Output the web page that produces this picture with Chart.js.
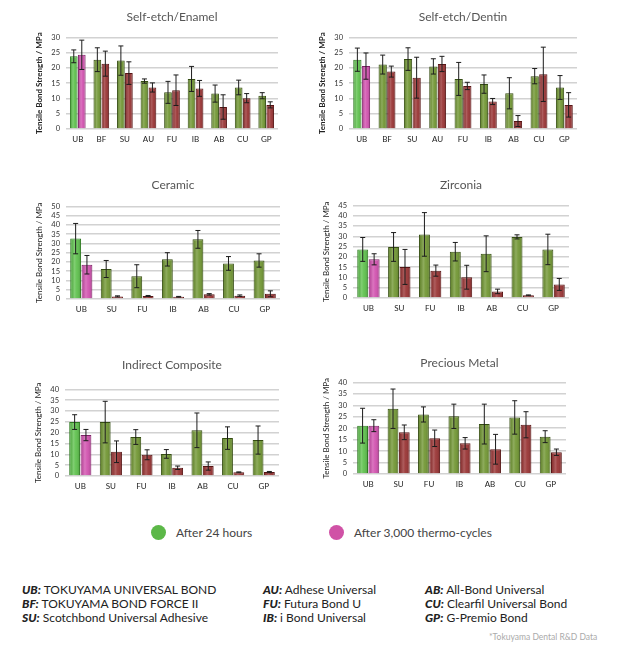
<!DOCTYPE html>
<html><head><meta charset="utf-8">
<script src="https://cdn.jsdelivr.net/npm/chart.js@4.4.1/dist/chart.umd.min.js"></script>
<style>
html,body{margin:0;padding:0;background:#fff;width:624px;height:659px;overflow:hidden;font-family:Lato,"Open Sans",sans-serif;}
.dot{position:absolute;width:15px;height:15px;border-radius:50%;}
.lg{position:absolute;font-size:12px;color:#444;line-height:14px;white-space:nowrap;}
.ab{position:absolute;font-size:12px;color:#222;line-height:14px;white-space:nowrap;}
.ab b{font-style:italic;font-weight:900;}
.fn{position:absolute;font-size:8.5px;color:#aaa;white-space:nowrap;}
</style></head><body>
<div id="wrap"></div>
<div class="dot" style="left:151px;top:525px;background:#5cb848;"></div>
<div class="lg" style="left:176px;top:526px;">After 24 hours</div>
<div class="dot" style="left:329px;top:525px;background:#d052a6;"></div>
<div class="lg" style="left:354px;top:526px;">After 3,000 thermo-cycles</div>
<div class="ab" style="left:22px;top:583px;"><b>UB:</b> TOKUYAMA UNIVERSAL BOND<br><b>BF:</b> TOKUYAMA BOND FORCE II<br><b>SU:</b> Scotchbond Universal Adhesive</div>
<div class="ab" style="left:263px;top:583px;"><b>AU:</b> Adhese Universal<br><b>FU:</b> Futura Bond U<br><b>IB:</b> i Bond Universal</div>
<div class="ab" style="left:425px;top:583px;"><b>AB:</b> All-Bond Universal<br><b>CU:</b> Clearfil Universal Bond<br><b>GP:</b> G-Premio Bond</div>
<div class="fn" style="left:489px;top:632px;">*Tokuyama Dental R&amp;D Data</div>
<script>
// ---- data ----
const catsNine = ["UB","BF","SU","AU","FU","IB","AB","CU","GP"];
const catsSeven = ["UB","SU","FU","IB","AB","CU","GP"];

const enamel24 = [23.8,22.7,22.4,15.7,12.0,16.4,11.6,13.6,10.9];
const enamel24Err = [2.1,3.9,4.8,0.7,3.6,4.1,2.8,2.4,1.0];
const enamelTC = [24.3,21.4,18.3,13.6,12.7,13.3,7.2,10.1,7.9];
const enamelTCErr = [4.8,4.1,3.7,1.5,5.0,2.6,4.0,1.5,1.0];

const dentin24 = [22.7,21.1,22.9,20.5,16.4,14.7,11.7,17.3,13.6];
const dentin24Err = [3.8,3.1,3.7,2.5,5.4,3.0,5.1,2.5,3.9];
const dentinTC = [20.6,18.8,16.8,21.3,14.1,9.0,2.6,17.9,7.9];
const dentinTCErr = [4.3,1.8,6.7,2.5,1.2,1.0,1.8,8.9,4.0];

const ceramic24 = [32.6,16.2,12.3,21.4,32.2,19.2,20.8];
const ceramic24Err = [8.2,4.6,6.2,3.6,4.8,3.7,3.6];
const ceramicTC = [18.5,1.4,1.6,1.2,2.5,1.8,2.8];
const ceramicTCErr = [5.0,0.3,0.3,0.2,0.4,0.4,1.6];

const zirconia24 = [23.6,24.8,30.9,22.5,21.5,29.7,23.6];
const zirconia24Err = [5.8,7.0,10.6,4.5,8.7,1.0,7.4];
const zirconiaTC = [18.8,15.1,13.3,10.1,3.2,1.3,6.6];
const zirconiaTCErr = [2.7,8.5,2.7,5.8,1.1,0.2,2.9];

const composite24 = [24.9,24.9,18.0,10.2,21.1,17.5,16.6];
const composite24Err = [3.4,9.6,3.4,2.0,8.0,5.2,6.5];
const compositeTC = [18.9,11.2,9.8,3.8,4.6,1.7,1.8];
const compositeTCErr = [2.6,5.0,2.3,0.8,1.9,0.2,0.3];

const metal24 = [21.1,28.5,26.0,25.2,21.8,24.7,16.3];
const metal24Err = [7.6,8.6,3.3,5.3,8.7,7.3,2.6];
const metalTC = [21.1,18.2,15.6,13.4,10.8,21.5,9.5];
const metalTCErr = [2.6,3.2,3.6,2.5,6.5,5.7,1.4];

const yMaxes = [30,30,50,45,40,40];
const seriesNames = ["After 24 hours","After 3,000 thermo-cycles"];
const yTitle = "Tensile Bond Strength / MPa";

// ---- styles ----
const COL = {
  ubGreen:'#5cc04a', ubGreenB:'#2f7a22',
  ubPink:'#d14fae', ubPinkB:'#7d2266',
  olive:'#6f9530', oliveB:'#354d12',
  red:'#973030', redB:'#561414'
};

// soft cylindrical shading on each bar (style only)
const barShade = {
  id:'barShade',
  afterDatasetsDraw(chart){
    const ctx = chart.ctx;
    chart.data.datasets.forEach((ds,i)=>{
      chart.getDatasetMeta(i).data.forEach(bar=>{
        const x0 = bar.x - bar.width/2, w = bar.width, h = bar.base - bar.y;
        if (h <= 1) return;
        const g = ctx.createLinearGradient(x0,0,x0+w,0);
        g.addColorStop(0,'rgba(0,0,0,0.12)');
        g.addColorStop(0.4,'rgba(255,255,255,0.22)');
        g.addColorStop(0.6,'rgba(255,255,255,0.08)');
        g.addColorStop(1,'rgba(0,0,0,0.18)');
        ctx.save(); ctx.fillStyle = g;
        ctx.fillRect(x0+1, bar.y+1, w-2, h-1);
        ctx.restore();
      });
    });
  }
};

const errorBars = {
  id:'errorBars',
  afterDatasetsDraw(chart){
    const ctx = chart.ctx, ys = chart.scales.y;
    chart.data.datasets.forEach((ds,i)=>{
      const meta = chart.getDatasetMeta(i);
      meta.data.forEach((bar,j)=>{
        const v = ds.data[j], e = ds.errors[j];
        const yt = ys.getPixelForValue(v+e), yb = ys.getPixelForValue(Math.max(0,v-e));
        ctx.save();
        ctx.strokeStyle = '#1c1c1c'; ctx.lineWidth = 1;
        ctx.beginPath();
        ctx.moveTo(bar.x, yt); ctx.lineTo(bar.x, yb);
        ctx.moveTo(bar.x-2.5, yt); ctx.lineTo(bar.x+2.5, yt);
        ctx.moveTo(bar.x-2.5, yb); ctx.lineTo(bar.x+2.5, yb);
        ctx.stroke();
        ctx.restore();
      });
    });
  }
};

const panels = [
  {title:'Self-etch/Enamel', cats:catsNine, a:enamel24, ae:enamel24Err, b:enamelTC, be:enamelTCErr, L:66, T:37, R:278, B:129, bold:true, pb:13, cp:0.68},
  {title:'Self-etch/Dentin', cats:catsNine, a:dentin24, ae:dentin24Err, b:dentinTC, be:dentinTCErr, L:349, T:37, R:577, B:129, bold:true, pb:13, cp:0.68},
  {title:'Ceramic', cats:catsSeven, a:ceramic24, ae:ceramic24Err, b:ceramicTC, be:ceramicTCErr, L:66, T:206, R:280, B:299, bold:false, pb:14, cp:0.74},
  {title:'Zirconia', cats:catsSeven, a:zirconia24, ae:zirconia24Err, b:zirconiaTC, be:zirconiaTCErr, L:353, T:205, R:569, B:298, bold:false, pb:13, cp:0.74},
  {title:'Indirect Composite', cats:catsSeven, a:composite24, ae:composite24Err, b:compositeTC, be:compositeTCErr, L:65, T:389, R:279, B:476, bold:false, pb:17, cp:0.74},
  {title:'Precious Metal', cats:catsSeven, a:metal24, ae:metal24Err, b:metalTC, be:metalTCErr, L:353, T:382, R:566, B:474, bold:false, pb:12, cp:0.74}
];

const Y_W = 35, X_H = 22, PAD_R = 4, T_PT = 4, T_FS = 12, T_LH = 1.2;
const wrap = document.getElementById('wrap');

panels.forEach((p,idx)=>{
  const titleBlock = T_PT + T_FS*T_LH + p.pb;
  const left = p.L - Y_W, top = p.T - titleBlock;
  const w = p.R - left + PAD_R, h = p.B + X_H - top;
  const div = document.createElement('div');
  div.style.cssText = `position:absolute;left:${left}px;top:${top}px;width:${w}px;height:${h}px;`;
  const c = document.createElement('canvas');
  c.width = w; c.height = h;
  c.style.width = w+'px'; c.style.height = h+'px';
  div.appendChild(c);
  wrap.appendChild(div);

  new Chart(c, {
    type:'bar',
    data:{
      labels:p.cats,
      datasets:[
        {label:seriesNames[0], data:p.a, errors:p.ae,
         backgroundColor:ctx=>ctx.dataIndex===0?COL.ubGreen:COL.olive,
         borderColor:ctx=>ctx.dataIndex===0?COL.ubGreenB:COL.oliveB,
         borderWidth:1, categoryPercentage:p.cp, barPercentage:0.96},
        {label:seriesNames[1], data:p.b, errors:p.be,
         backgroundColor:ctx=>ctx.dataIndex===0?COL.ubPink:COL.red,
         borderColor:ctx=>ctx.dataIndex===0?COL.ubPinkB:COL.redB,
         borderWidth:1, categoryPercentage:p.cp, barPercentage:0.96}
      ]
    },
    options:{
      responsive:false, animation:false, devicePixelRatio:1,
      layout:{padding:{left:0,right:PAD_R,top:0,bottom:0}},
      plugins:{
        legend:{display:false}, tooltip:{enabled:false},
        title:{display:true, text:p.title, fullSize:false, color:'#555',
          font:{family:'Lato', size:T_FS, weight:'normal', lineHeight:T_LH},
          padding:{top:T_PT, bottom:p.pb}}
      },
      scales:{
        x:{
          grid:{display:false, drawTicks:false}, border:{display:false},
          ticks:{color:'#222', font:{family:'Lato', size:8}, padding:6},
          afterFit(s){ s.height = X_H; }
        },
        y:{
          min:0, max:yMaxes[idx],
          ticks:{stepSize:5, autoSkip:false, color:'#333', font:{family:'Lato', size:7.5}, padding:6},
          grid:{color:'#d2d2d2', lineWidth:1.5, drawTicks:false},
          border:{display:false},
          title:{display:true, text:yTitle, color:'#222',
            font:{family:'Lato', size:8, weight:p.bold?'bold':'normal', lineHeight:1.2},
            padding:{top:4,bottom:2}},
          afterFit(s){ s.width = Y_W; }
        }
      }
    },
    plugins:[barShade, errorBars]
  });
});
</script>
</body></html>
